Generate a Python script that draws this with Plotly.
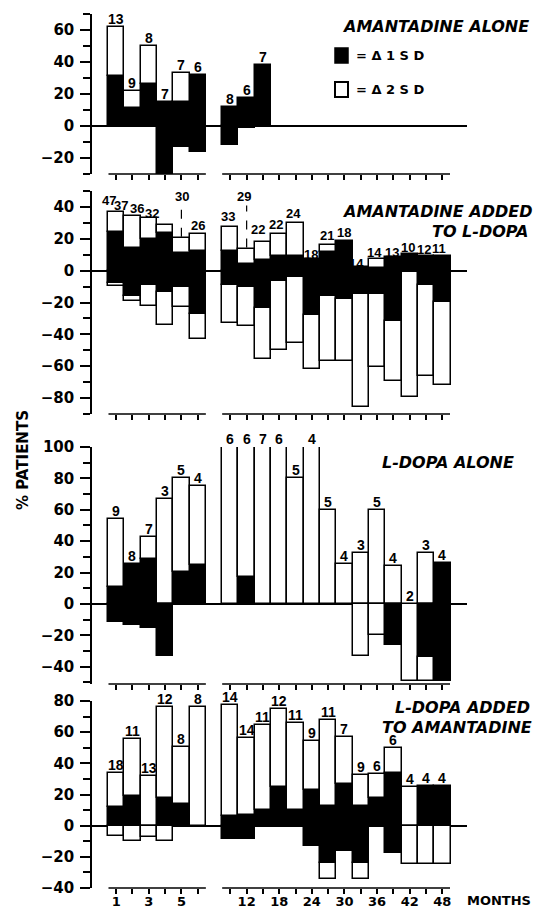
import plotly.graph_objects as go

# ---------------- DATA ----------------
months = [1, 2, 3, 4, 5, 6, 9, 12, 15, 18, 21, 24, 27, 30, 33, 36, 39, 42, 45, 48]
labeled_months = [1, 3, 5, 12, 18, 24, 30, 36, 42, 48]

# Panel 1: AMANTADINE ALONE
p1_n   = [13, 9, 8, 7, 7, 6, 8, 6, 7, None, None, None, None, None, None, None, None, None, None, None]
p1_up1 = [31, 11, 26, 15, 15, 32, 12, 17.5, 38, None, None, None, None, None, None, None, None, None, None, None]
p1_up2 = [62, 22, 50, 15, 33, 32, 12, 17.5, 38, None, None, None, None, None, None, None, None, None, None, None]
p1_dn1 = [0, 0, 0, -30, -13, -16, -12, -1, 0, None, None, None, None, None, None, None, None, None, None, None]
p1_dn2 = [0, 0, 0, -30, -13, -16, -12, -1, 0, None, None, None, None, None, None, None, None, None, None, None]

# Panel 2: AMANTADINE ADDED TO L-DOPA
p2_n   = [47, 37, 36, 32, 30, 26, 33, 29, 22, 22, 24, 18, 21, 18, 14, 14, 13, 10, 12, 11]
p2_up1 = [24, 14, 20, 23.4, 11, 12.5, 12.6, 4.2, 6.7, 9.4, 9.4, 7, 11.7, 18.6, 2.3, 1.9, 8.6, 10.7, 9.2, 9.2]
p2_up2 = [36.6, 34.5, 33, 28.7, 20.3, 23, 27.2, 13.6, 17.8, 23, 29.7, 7, 15.9, 18.6, 2.3, 7.5, 8.6, 10.7, 9.2, 9.2]
p2_dn1 = [-7.7, -16, -9, -13.6, -10.5, -27, -9, -10.5, -23.6, -6.3, -4.2, -28, -15.7, -17.8, -14.6, -14.6, -31.4, -1, -9, -19.5]
p2_dn2 = [-9.4, -19, -22, -34, -23, -43, -32.8, -34.5, -55.4, -49.6, -45.4, -61.7, -56.5, -56.5, -85.8, -60.7, -69, -79.5, -66.3, -72]

# Panel 3: L-DOPA ALONE
p3_n   = [9, 8, 7, 3, 5, 4, 6, 6, 7, 6, 5, 4, 5, 4, 3, 5, 4, 2, 3, 4]
p3_up1 = [11, 25.4, 28.6, 0, 20.6, 24.8, 0, 17.4, 0, 0, 0, 0, 0, 0, 0, 0, 0, 0, 0, 25.8]
p3_up2 = [54.4, 25.4, 42.4, 67, 80.5, 75, 100, 100, 100, 100, 80, 100, 60, 25.2, 32.6, 60, 24.4, 0, 32.2, 25.8]
p3_dn1 = [-11.2, -13.3, -15.5, -33, 0, 0, 0, 0, 0, 0, 0, 0, 0, 0, 0, 0, -26, 0, -34, -49]
p3_dn2 = [-11.2, -13.3, -15.5, -33, 0, 0, 0, 0, 0, 0, 0, 0, 0, 0, -33, -20, -26, -49, -49, -49]

# Panel 4: L-DOPA ADDED TO AMANTADINE
p4_n   = [18, 11, 13, 12, 8, 8, 14, 14, 11, 12, 11, 9, 11, 7, 9, 6, 6, 4, 4, 4]
p4_up1 = [12, 19, 0, 18, 13.6, 0, 6.5, 6.9, 10, 24.9, 10, 22.7, 12.5, 27, 12.5, 17.5, 34, 0, 25.5, 25.5]
p4_up2 = [33.5, 55.8, 31.6, 75.9, 50.4, 75.9, 77.4, 56.2, 64.4, 74.6, 66, 54.5, 67.7, 56.6, 32.4, 32.9, 49.7, 24.9, 25.5, 25.5]
p4_dn1 = [0, 0, 0, 0, 0, 0, -8.6, -8.6, 0, 0, 0, -13, -24, -16, -24, 0, -17.3, 0, 0, 0]
p4_dn2 = [-6.5, -9.7, -7, -9.7, 0, 0, -8.6, -8.6, 0, 0, 0, -13, -34, -16, -34, 0, -17.3, -24.9, -24.9, -24.9]

title_lines = [
    [("AMANTADINE ALONE", 340, 26)],
    [("AMANTADINE ADDED", 340, 212), ("TO L-DOPA", 430, 232)],
    [("L-DOPA ALONE", 380, 462)],
    [("L-DOPA ADDED", 393, 707), ("TO AMANTADINE", 380, 727)],
]
y_ranges = [[-30, 70], [-90, 50], [-51, 100], [-40, 80]]

# ---------------- LAYOUT / STYLE ----------------
REF_W, REF_H = 541, 909
PAGE = 8                      # default body margin of the page
W, H = REF_W - PAGE, REF_H - PAGE


def xp(px):
    return (px - PAGE) / W


def yp(py):
    return 1 - (py - PAGE) / H


X_PX = (92, 467)
SLOT_LEFT_PX, SLOT_W = 108.0, 16.31
x_range = [(X_PX[0] - SLOT_LEFT_PX) / SLOT_W - 0.5, (X_PX[1] - SLOT_LEFT_PX) / SLOT_W - 0.5]
panel_px = [(14, 174), (191, 414), (447, 684), (701, 888)]

# label offsets (px) for panel 2, where labels are staggered
p2_dx = [-7, -11.5, -11.8, -13, 0.6, 0.3, -2.3, -2.6, -5, -3.3, -1.6, -0.9, -1.2, -0.5, -4.8, -2.2, -1.5, -1.8, -2.1, -3.4]
p2_dy = [11.8, 10.1, 9.5, 11.4, 41.7, 8.4, 10.8, 52.4, 12.7, 9.4, 9.8, 4.9, 9.6, 8.4, 3.3, 6.1, 4.3, 6, 6.4, 7.4]

slots = [i if i < 6 else i + 1 for i in range(len(months))]

panels = [
    (p1_n, p1_up1, p1_up2, p1_dn1, p1_dn2),
    (p2_n, p2_up1, p2_up2, p2_dn1, p2_dn2),
    (p3_n, p3_up1, p3_up2, p3_dn1, p3_dn2),
    (p4_n, p4_up1, p4_up2, p4_dn1, p4_dn2),
]

AX_FONT = dict(family="DejaVu Sans", size=15, color="black", weight="bold")
LBL_FONT = "Liberation Sans"


def seg(base, top):
    b, h = [], []
    for bb, tt in zip(base, top):
        if bb is None or tt is None or abs(tt - bb) < 1e-9:
            b.append(0)
            h.append(None)
        else:
            b.append(bb)
            h.append(tt - bb)
    return b, h


fig = go.Figure()
annotations = []
shapes = []
layout_axes = {}

for k, (n, up1, up2, dn1, dn2) in enumerate(panels):
    idx = "" if k == 0 else str(k + 1)
    xa, ya = "x" + idx, "y" + idx
    zeros = [0 if v is not None else None for v in up1]
    parts = [
        (zeros, up1, "black"),
        (up1, up2, "white"),
        (zeros, dn1, "black"),
        (dn1, dn2, "white"),
    ]
    for base, top, col in parts:
        b, h = seg(base, top)
        fig.add_trace(go.Bar(
            x=slots, y=h, base=b, width=1.0,
            marker=dict(color=col, line=dict(color="black", width=1.5)),
            xaxis=xa, yaxis=ya, hoverinfo="skip", showlegend=False,
        ))

    top_px, bot_px = panel_px[k]
    ydom = [yp(bot_px), yp(top_px)]
    yr = y_ranges[k]
    scale = (bot_px - top_px) / (yr[1] - yr[0])

    is_bottom = (k == 3)
    ticktext = [str(m) if (is_bottom and m in labeled_months) else "" for m in months]
    layout_axes["xaxis" + idx] = dict(
        domain=[xp(X_PX[0]), xp(X_PX[1])], range=x_range, anchor=ya,
        tickmode="array", tickvals=slots, ticktext=ticktext,
        ticks="outside", ticklen=5, tickwidth=1.5, tickcolor="black",
        showline=False, showgrid=False, zeroline=False,
        tickfont=dict(family="DejaVu Sans", size=13, color="black", weight="bold"),
        ticklabelstandoff=-4,
        fixedrange=True,
    )
    layout_axes["yaxis" + idx] = dict(
        domain=ydom, range=yr, anchor=xa,
        tickmode="linear", tick0=0, dtick=20,
        ticks="outside", ticklen=10, tickwidth=1.5, tickcolor="black",
        minor=dict(ticks="outside", ticklen=7, tickwidth=1.5, tickcolor="black", dtick=10, tick0=0, showgrid=False),
        showline=True, linewidth=1.5, linecolor="black",
        showgrid=False, zeroline=True, zerolinecolor="black", zerolinewidth=1.5,
        tickfont=AX_FONT, ticklabelstandoff=3, fixedrange=True,
    )

    for x0, x1 in [(-0.47, 5.5), (6.5, 20.47)]:
        shapes.append(dict(type="line", xref=xa, yref=ya + " domain", x0=x0, x1=x1, y0=0, y1=0,
                           line=dict(color="black", width=1.5)))

    fsize = 13 if k == 1 else 14
    for i, cnt in enumerate(n):
        if cnt is None:
            continue
        top = max(up2[i], 0)
        dx, dy = (p2_dx[i], p2_dy[i]) if k == 1 else (0, 8)
        annotations.append(dict(
            x=slots[i], y=top, xref=xa, yref=ya, text=str(cnt), showarrow=False,
            xanchor="center", yanchor="middle", xshift=dx, yshift=dy,
            font=dict(family=LBL_FONT, size=fsize, color="black", weight="bold"),
        ))
        if k == 1 and dy > 30:
            shapes.append(dict(type="line", xref=xa, yref=ya, x0=slots[i], x1=slots[i],
                               y0=top + 1, y1=top + (dy - 9) / scale,
                               line=dict(color="black", width=1.2, dash="dash")))

    for txt, tx, ty in title_lines[k]:
        annotations.append(dict(
            x=xp(tx), y=yp(ty), xref="paper", yref="paper", text=txt, showarrow=False,
            xanchor="left", yanchor="middle",
            font=dict(family="DejaVu Sans", size=16, color="black", weight="bold", style="italic"),
        ))

# legend (panel 1)
shapes.append(dict(type="rect", xref="paper", yref="paper",
                   x0=xp(335), x1=xp(348), y0=yp(63), y1=yp(48),
                   fillcolor="black", line=dict(color="black", width=1.5)))
shapes.append(dict(type="rect", xref="paper", yref="paper",
                   x0=xp(335), x1=xp(348), y0=yp(97), y1=yp(82),
                   fillcolor="white", line=dict(color="black", width=2)))
for txt, yy in [("= Δ 1 S D", 56), ("= Δ 2 S D", 89)]:
    annotations.append(dict(x=xp(354), y=yp(yy), xref="paper", yref="paper", text=txt,
                            showarrow=False, xanchor="left", yanchor="middle",
                            font=dict(family="DejaVu Sans", size=13, color="black", weight="bold")))

annotations.append(dict(x=xp(23), y=yp(460), xref="paper", yref="paper", text="% PATIENTS",
                        showarrow=False, textangle=-90, xanchor="center", yanchor="middle",
                        font=dict(family="DejaVu Sans", size=15, color="black", weight="bold")))
annotations.append(dict(x=xp(466), y=yp(900), xref="paper", yref="paper", text="MONTHS",
                        showarrow=False, xanchor="left", yanchor="middle", borderpad=0,
                        font=dict(family="DejaVu Sans", size=13, color="black", weight="bold")))

fig.update_layout(
    width=W, height=H,
    margin=dict(l=0, r=0, t=0, b=0, autoexpand=False),
    paper_bgcolor="white", plot_bgcolor="white",
    barmode="overlay", bargap=0,
    showlegend=False,
    annotations=annotations, shapes=shapes,
    **layout_axes,
)

fig.write_html("out.html")
